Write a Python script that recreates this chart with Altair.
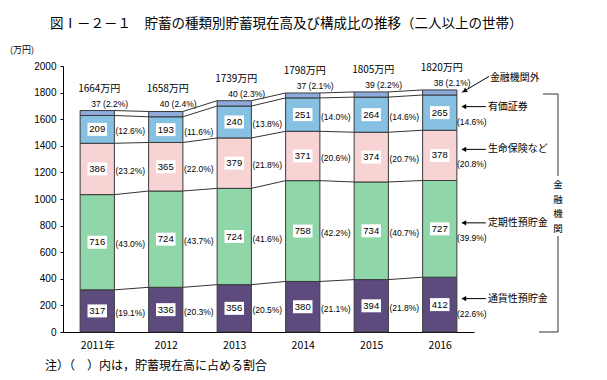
import json
import altair as alt
import pandas as pd

years = ["2011年", "2012", "2013", "2014", "2015", "2016"]
categories = ["通貨性預貯金", "定期性預貯金", "生命保険など", "有価証券", "金融機関外"]
demand = [317, 336, 356, 380, 394, 412]
time_dep = [716, 724, 724, 758, 734, 727]
life_ins = [386, 365, 379, 371, 374, 378]
securities = [209, 193, 240, 251, 264, 265]
non_fin = [37, 40, 40, 37, 39, 38]
demand_pct = [19.1, 20.3, 20.5, 21.1, 21.8, 22.6]
time_pct = [43.0, 43.7, 41.6, 42.2, 40.7, 39.9]
life_pct = [23.2, 22.0, 21.8, 20.6, 20.7, 20.8]
sec_pct = [12.6, 11.6, 13.8, 14.0, 14.6, 14.6]
nonfin_pct = [2.2, 2.4, 2.3, 2.1, 2.2, 2.1]
totals = [1664, 1658, 1739, 1798, 1805, 1820]
y_ticks = list(range(0, 2001, 200))

title_text = "図Ⅰ－２－１　貯蓄の種類別貯蓄現在高及び構成比の推移（二人以上の世帯）"
unit_text = "(万円)"
note_text = "注）（　）内は，貯蓄現在高に占める割合"
bracket_chars = ["金", "融", "機", "関"]

colors = ["#5d4b7e", "#8fd6a8", "#f7d3d3", "#86c0e3", "#8eaadb"]
FONT = "Noto Sans CJK JP"
NUMFONT = "Liberation Sans"

series_vals = [demand, time_dep, life_ins, securities, non_fin]
series_pct = [demand_pct, time_pct, life_pct, sec_pct, nonfin_pct]

rows = []
for i, yr in enumerate(years):
    cum = 0
    for k, cat in enumerate(categories):
        v = series_vals[k][i]
        p = series_pct[k][i]
        rows.append(dict(year=yr, idx=i, cat=cat, k=k, value=v, pct=p,
                         y0=cum, y1=cum + v, mid=cum + v / 2,
                         xc=i + 0.5, xl=i + 0.25, xr=i + 0.75,
                         plabel=f"({p:.1f}%)", toplabel=f"{v} ({p:.1f}%)"))
        cum += v
seg = pd.DataFrame(rows)

conn = []
for i in range(len(years) - 1):
    for k in range(len(categories)):
        a = seg[(seg.idx == i) & (seg.k == k)].y1.iloc[0]
        b = seg[(seg.idx == i + 1) & (seg.k == k)].y1.iloc[0]
        conn.append(dict(xa=i + 0.75, xb=i + 1.25, ya=a, yb=b))
conn = pd.DataFrame(conn)

tot = pd.DataFrame(dict(xc=[i + 0.5 for i in range(len(years))], total=totals,
                        label=[f"{t}万円" for t in totals]))

last = len(years) - 1
inner = seg[seg.k < 4]
inner_early = inner[inner.idx < last]
inner_last = inner[inner.idx == last]
top_seg = seg[seg.k == 4]
top_last = top_seg[top_seg.idx == last]

xs = alt.Scale(domain=[0, len(years)], nice=False, zero=False)
ys = alt.Scale(domain=[0, 2000], nice=False)

label_expr = json.dumps(years, ensure_ascii=False) + "[floor(datum.value)]"
XAX = alt.Axis(values=[i + 0.5 for i in range(len(years))], labelExpr=label_expr,
               ticks=False, tickSize=0, grid=False, title=None, domainColor="#000000",
               labelFontSize=10.5, labelPadding=8, labelColor="#000000", labelFont=FONT)
YAX = alt.Axis(values=y_ticks, format="d", tickSize=3, grid=False, title=None, domainColor="#000000",
               tickColor="#000000", labelFontSize=10, labelPadding=4, labelColor="#000000",
               labelFont=NUMFONT)


def X(f):
    return alt.X(f, scale=xs, axis=XAX)


def Y(f):
    return alt.Y(f, scale=ys, axis=YAX)


bars = alt.Chart(seg).mark_rect(stroke="#3a3a3a", strokeWidth=1).encode(
    x=X("xl:Q"), x2="xr:Q", y=Y("y0:Q"), y2="y1:Q",
    color=alt.Color("cat:N", scale=alt.Scale(domain=categories, range=colors), legend=None),
)

lines = alt.Chart(conn).mark_rule(color="#333333", strokeWidth=1).encode(
    x=X("xa:Q"), x2="xb:Q", y=Y("ya:Q"), y2="yb:Q",
)

boxes = alt.Chart(inner).mark_point(
    shape="M-1.5,-1H1.5V1H-1.5Z", size=169, filled=True, color="white", opacity=1
).encode(x=X("xc:Q"), y=Y("mid:Q"))

nums = alt.Chart(inner).mark_text(fontSize=9.5, font=NUMFONT, color="#000000").encode(
    x=X("xc:Q"), y=Y("mid:Q"), text="value:Q",
)

pct_early = alt.Chart(inner_early).mark_text(fontSize=8.5, font=NUMFONT, color="#000000", dx=33, dy=2).encode(
    x=X("xc:Q"), y=Y("mid:Q"), text="plabel:N",
)

pct_last = alt.Chart(inner_last).mark_text(fontSize=8.5, font=NUMFONT, color="#000000", dx=32, dy=9).encode(
    x=X("xc:Q"), y=Y("mid:Q"), text="plabel:N",
)

top_labels = alt.Chart(top_seg).mark_text(fontSize=8.5, font=NUMFONT, color="#000000",
                                          align="left", dx=-6, dy=-7).encode(
    x=X("xc:Q"), y=Y("y1:Q"), text="toplabel:N",
)

total_labels = alt.Chart(tot).mark_text(fontSize=10, font=FONT, color="#000000", dx=2, dy=-22).encode(
    x=X("xc:Q"), y=Y("total:Q"), text="label:N",
)

# arrows with labels for the last year
arrow_lines = alt.Chart(inner_last).mark_rule(color="#000000", strokeWidth=1,
                                              xOffset=5, x2Offset=29, yOffset=-6).encode(
    x=X("xr:Q"), x2="xr:Q", y=Y("mid:Q"),
)
arrow_heads = alt.Chart(inner_last).mark_point(shape="triangle-left", filled=True, size=28,
                                               color="#000000", opacity=1, xOffset=7, yOffset=-6).encode(
    x=X("xr:Q"), y=Y("mid:Q"),
)
arrow_text = alt.Chart(inner_last).mark_text(fontSize=10, font=FONT, color="#000000",
                                             align="left", dx=31, dy=-6).encode(
    x=X("xr:Q"), y=Y("mid:Q"), text="cat:N",
)
diag_line = alt.Chart(top_last).mark_rule(color="#000000", strokeWidth=1,
                                          xOffset=5, x2Offset=32, y2Offset=-16).encode(
    x=X("xr:Q"), x2="xr:Q", y=Y("mid:Q"), y2="mid:Q",
)
diag_head = alt.Chart(top_last).mark_point(shape="triangle-up", angle=239, filled=True, size=28,
                                           color="#000000", opacity=1, xOffset=7.6, yOffset=-1.5).encode(
    x=X("xr:Q"), y=Y("mid:Q"),
)
diag_text = alt.Chart(top_last).mark_text(fontSize=10, font=FONT, color="#000000",
                                          align="left", dx=33, dy=-14).encode(
    x=X("xr:Q"), y=Y("mid:Q"), text="cat:N",
)

one = pd.DataFrame({"a": [0]})
br_color = "#333333"
br1 = alt.Chart(one).mark_rule(color=br_color).encode(x=alt.value(495), y=alt.value(28), y2=alt.value(110))
br2 = alt.Chart(one).mark_rule(color=br_color).encode(x=alt.value(495), y=alt.value(170), y2=alt.value(266))
br3 = alt.Chart(one).mark_rule(color=br_color).encode(x=alt.value(480), x2=alt.value(495), y=alt.value(28))
br4 = alt.Chart(one).mark_rule(color=br_color).encode(x=alt.value(476), x2=alt.value(495), y=alt.value(266))
br_texts = [
    alt.Chart(one).mark_text(text=ch, fontSize=9.5, font=FONT, color="#000000",
                             align="center", baseline="middle").encode(
        x=alt.value(495), y=alt.value(119 + 14.5 * j))
    for j, ch in enumerate(bracket_chars)
]

title = alt.Chart(one).mark_text(text=title_text, fontSize=13.5, font=FONT, color="#000000",
                                 align="left", baseline="middle").encode(
    x=alt.value(-13), y=alt.value(-42))
unit = alt.Chart(one).mark_text(text=unit_text, fontSize=9, font=FONT, color="#000000",
                                align="left", baseline="middle").encode(
    x=alt.value(-53), y=alt.value(-16))
note = alt.Chart(one).mark_text(text=note_text, fontSize=12, font=FONT, color="#000000",
                                align="left", baseline="middle").encode(
    x=alt.value(-18), y=alt.value(300))

chart = alt.layer(
    bars, lines, boxes, nums, pct_early, pct_last, top_labels, total_labels,
    arrow_lines, arrow_heads, arrow_text, diag_line, diag_head, diag_text,
    br1, br2, br3, br4, *br_texts, title, unit, note,
).properties(
    width=411, height=266,
    autosize=alt.AutoSizeParams(type="none"),
    padding={"left": 55, "top": 58, "right": 125, "bottom": 40},
    background="white",
).configure_view(stroke=None)

chart.save("out.html", embed_options={"renderer": "svg", "actions": False})
